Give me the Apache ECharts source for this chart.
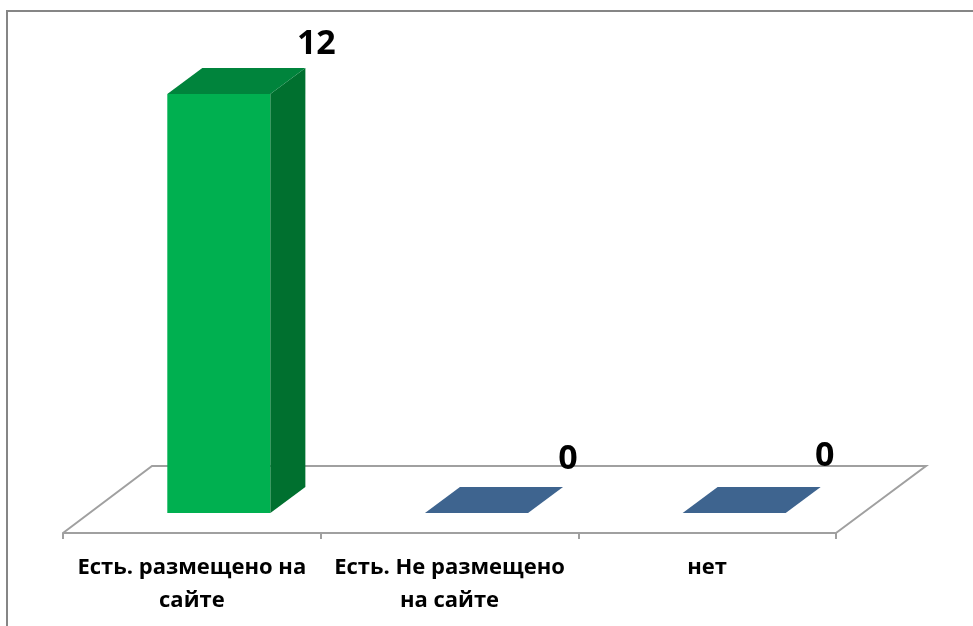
<!DOCTYPE html>
<html>
<head>
<meta charset="utf-8">
<style>
html, body { margin: 0; padding: 0; background: #fff; }
#main { width: 973px; height: 626px; }
</style>
<script src="https://cdn.jsdelivr.net/npm/echarts@6/dist/echarts.min.js"></script>
</head>
<body>
<div id="main"></div>
<script>
var categories = ['Есть. размещено на\nсайте', 'Есть. Не размещено\nна сайте', 'нет'];
var values = [12, 0, 0];
var frontColors = ['#00b050', '#3e648f', '#3e648f'];
var topColors = ['#00843c', '#3e648f', '#3e648f'];
var sideColors = ['#00702f', '#3e648f', '#3e648f'];

// depth of the fake 3d, and how far the bar sits from the band centre
var depthX = 35, depthY = 26;
var floorX = 89, floorY = 67;
var barShift = 27;
var labelFont = '"Open Sans", sans-serif';
var valueLabelShift = [[46, -50], [40, -54], [39, -57]];

function renderFloor(params, api) {
    var g = params.coordSys;
    var y = g.y + g.height + 20;
    var x0 = g.x, x1 = g.x + g.width;
    return {
        type: 'polyline',
        silent: true,
        shape: {
            points: [[x0, y], [x0 + floorX, y - floorY], [x1 + floorX + 1, y - floorY], [x1, y]]
        },
        style: { fill: null, stroke: '#a0a0a0', lineWidth: 2 }
    };
}

function renderBar(params, api) {
    var i = params.dataIndex;
    var base = api.coord([i, 0]);
    var top = api.coord([i, api.value(1)]);
    var w = api.size([1, 0])[0] * 0.4;
    var l = base[0] + barShift - w / 2, r = l + w;
    var children = [];
    if (api.value(1) > 0) {
        children.push({
            type: 'polygon',
            shape: { points: [[l, base[1]], [r, base[1]], [r, top[1]], [l, top[1]]] },
            style: { fill: frontColors[i] }
        });
        children.push({
            type: 'polygon',
            shape: { points: [[r, base[1]], [r + depthX, base[1] - depthY], [r + depthX, top[1] - depthY], [r, top[1]]] },
            style: { fill: sideColors[i] }
        });
    }
    children.push({
        type: 'polygon',
        shape: { points: [[l, top[1]], [r, top[1]], [r + depthX, top[1] - depthY], [l + depthX, top[1] - depthY]] },
        style: { fill: topColors[i] }
    });
    children.push({
        type: 'text',
        style: {
            x: r + valueLabelShift[i][0],
            y: top[1] + valueLabelShift[i][1],
            text: String(api.value(1)),
            font: 'bold 34px ' + labelFont,
            fill: '#000',
            align: 'center',
            verticalAlign: 'middle'
        }
    });
    return { type: 'group', children: children };
}

var myChart = echarts.init(document.getElementById('main'));
var option = {
    animation: false,
    grid: { left: 63, top: 94, width: 773, height: 419 },
    xAxis: {
        type: 'category',
        data: categories,
        offset: 20,
        axisLine: { onZero: false, lineStyle: { color: '#a0a0a0', width: 2 } },
        axisTick: { show: true, length: 6, alignWithLabel: false, lineStyle: { color: '#a0a0a0', width: 2 } },
        axisLabel: {
            interval: 0,
            color: '#000',
            fontFamily: labelFont,
            fontWeight: 'bold',
            fontSize: 22,
            lineHeight: 33,
            margin: 18
        }
    },
    yAxis: {
        type: 'value',
        min: 0,
        max: 12,
        show: false
    },
    graphic: [
        {
            type: 'polyline',
            silent: true,
            shape: { points: [[7, 626], [7, 11], [973, 11]] },
            style: { fill: null, stroke: '#868686', lineWidth: 2 }
        }
    ],
    series: [
        { type: 'custom', renderItem: renderFloor, data: [[0, 0]], z: 1 },
        { type: 'custom', renderItem: renderBar, data: values.map(function (v, i) { return [i, v]; }), z: 2 }
    ]
};
option && myChart.setOption(option);
</script>
</body>
</html>
